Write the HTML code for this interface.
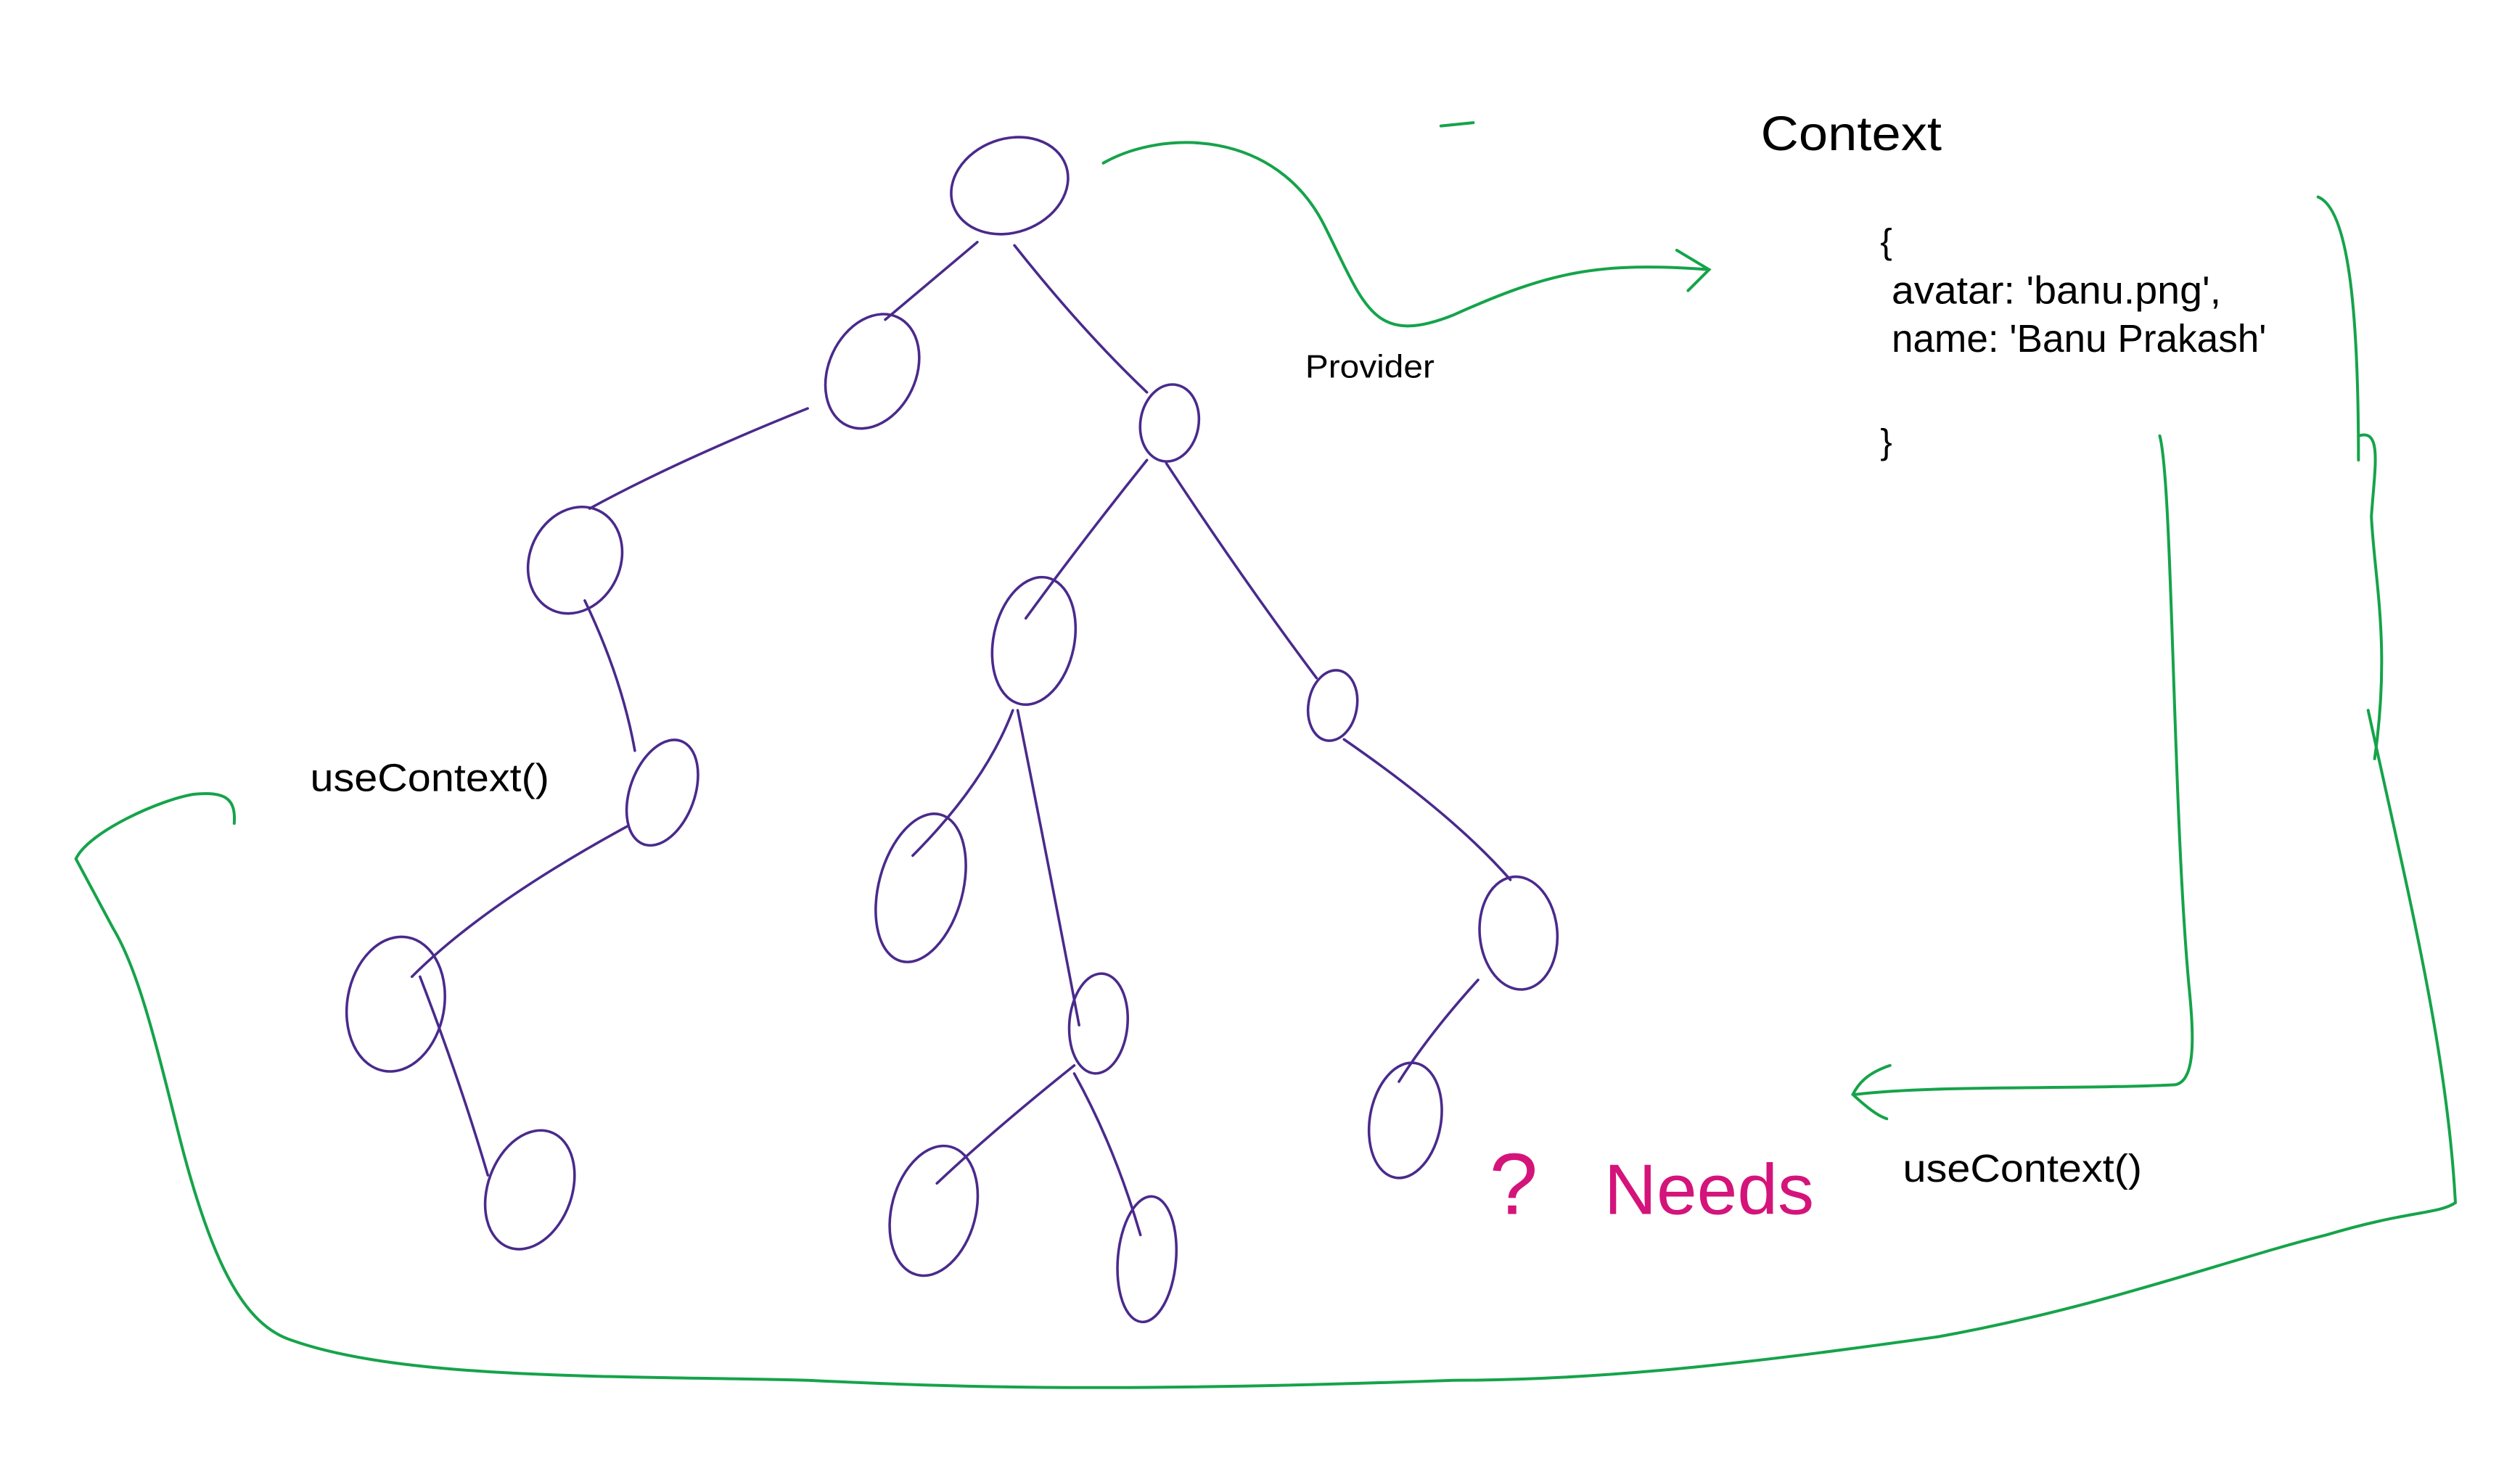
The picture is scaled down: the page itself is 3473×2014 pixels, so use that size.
<!DOCTYPE html>
<html><head><meta charset="utf-8"><style>
html,body{margin:0;padding:0;background:#fff;}
svg{display:block;}
text{font-family:"Liberation Sans",sans-serif;fill:#000;}
</style></head><body>
<svg width="3473" height="2014" viewBox="0 0 1560 905" preserveAspectRatio="none" xmlns="http://www.w3.org/2000/svg">
<rect width="1560" height="905" fill="#fff"/>
<g fill="none" stroke="#4a2a8c" stroke-width="1.6" stroke-linecap="round">
<ellipse cx="625" cy="115" rx="37" ry="29" transform="rotate(-20 625 115)"/>
<ellipse cx="540" cy="230" rx="27" ry="37" transform="rotate(25 540 230)"/>
<ellipse cx="724" cy="262" rx="18" ry="24" transform="rotate(10 724 262)"/>
<ellipse cx="356" cy="347" rx="28" ry="34" transform="rotate(25 356 347)"/>
<ellipse cx="640" cy="397" rx="25" ry="40" transform="rotate(12 640 397)"/>
<ellipse cx="825" cy="437" rx="15" ry="22" transform="rotate(10 825 437)"/>
<ellipse cx="410" cy="491" rx="20" ry="34" transform="rotate(20 410 491)"/>
<ellipse cx="570" cy="550" rx="26" ry="47" transform="rotate(15 570 550)"/>
<ellipse cx="940" cy="578" rx="24" ry="35" transform="rotate(-5 940 578)"/>
<ellipse cx="245" cy="622" rx="30" ry="42" transform="rotate(10 245 622)"/>
<ellipse cx="680" cy="634" rx="18" ry="31" transform="rotate(5 680 634)"/>
<ellipse cx="870" cy="694" rx="22" ry="36" transform="rotate(10 870 694)"/>
<ellipse cx="328" cy="737" rx="26" ry="38" transform="rotate(20 328 737)"/>
<ellipse cx="578" cy="750" rx="26" ry="41" transform="rotate(15 578 750)"/>
<ellipse cx="710" cy="780" rx="18" ry="39" transform="rotate(5 710 780)"/>
<path d="M605 150 L548 198"/>
<path d="M628 152 Q670 205 710 243"/>
<path d="M500 253 Q420 285 365 315"/>
<path d="M710 285 Q670 335 635 383"/>
<path d="M722 287 Q770 360 815 420"/>
<path d="M362 372 Q385 420 393 465"/>
<path d="M627 440 Q610 485 565 530"/>
<path d="M630 440 Q650 540 668 635"/>
<path d="M832 458 Q900 505 935 545"/>
<path d="M388 512 Q300 560 255 605"/>
<path d="M915 607 Q885 640 866 670"/>
<path d="M260 605 Q285 670 302 728"/>
<path d="M665 660 Q615 700 580 733"/>
<path d="M665 665 Q690 710 706 765"/>
</g>
<g fill="none" stroke="#16a34a" stroke-width="1.8" stroke-linecap="round">
<path d="M892 78 L912 76"/>
<path d="M683 101 C720 80 790 80 820 140 C845 190 850 215 900 195 C960 168 990 162 1058 167"/>
<path d="M1038 155 L1058 167 L1045 180"/>
<path d="M1435 122 C1455 130 1460 200 1460 285"/>
<path d="M1460 270 C1475 265 1470 290 1468 320 C1470 360 1480 400 1470 470"/>
<path d="M1466 440 C1490 550 1515 650 1520 745 C1510 752 1490 750 1440 765 C1380 780 1300 810 1200 828 C1100 842 1000 855 900 855 C700 862 600 860 500 855 C380 852 250 855 180 830 C150 820 130 780 110 700 C95 640 85 600 70 575 L47 532 C55 515 100 495 120 492 C140 490 146 495 145 510"/>
<path d="M1337 270 C1345 300 1345 500 1355 610 C1358 640 1360 672 1345 672 C1280 675 1200 672 1148 678"/>
<path d="M1170 660 C1155 665 1150 672 1147 678 C1160 690 1165 692 1168 693"/>
</g>
<text x="1090" y="93" font-size="30" textLength="112" lengthAdjust="spacingAndGlyphs">Context</text>
<text x="1164" y="157" font-size="22">{</text>
<text x="1171" y="188" font-size="24" textLength="204" lengthAdjust="spacingAndGlyphs">avatar: 'banu.png',</text>
<text x="1171" y="218" font-size="24" textLength="232" lengthAdjust="spacingAndGlyphs">name: 'Banu Prakash'</text>
<text x="1164" y="281" font-size="22">}</text>
<text x="808" y="234" font-size="20" textLength="80" lengthAdjust="spacingAndGlyphs">Provider</text>
<text x="192" y="490" font-size="24" textLength="148" lengthAdjust="spacingAndGlyphs">useContext()</text>
<text x="1178" y="732" font-size="24" textLength="148" lengthAdjust="spacingAndGlyphs">useContext()</text>
<text x="922" y="752" font-size="54" style="fill:#d4147a" textLength="30" lengthAdjust="spacingAndGlyphs">?</text>
<text x="993" y="752" font-size="44" style="fill:#d4147a" textLength="130" lengthAdjust="spacingAndGlyphs">Needs</text>
</svg>
</body></html>
